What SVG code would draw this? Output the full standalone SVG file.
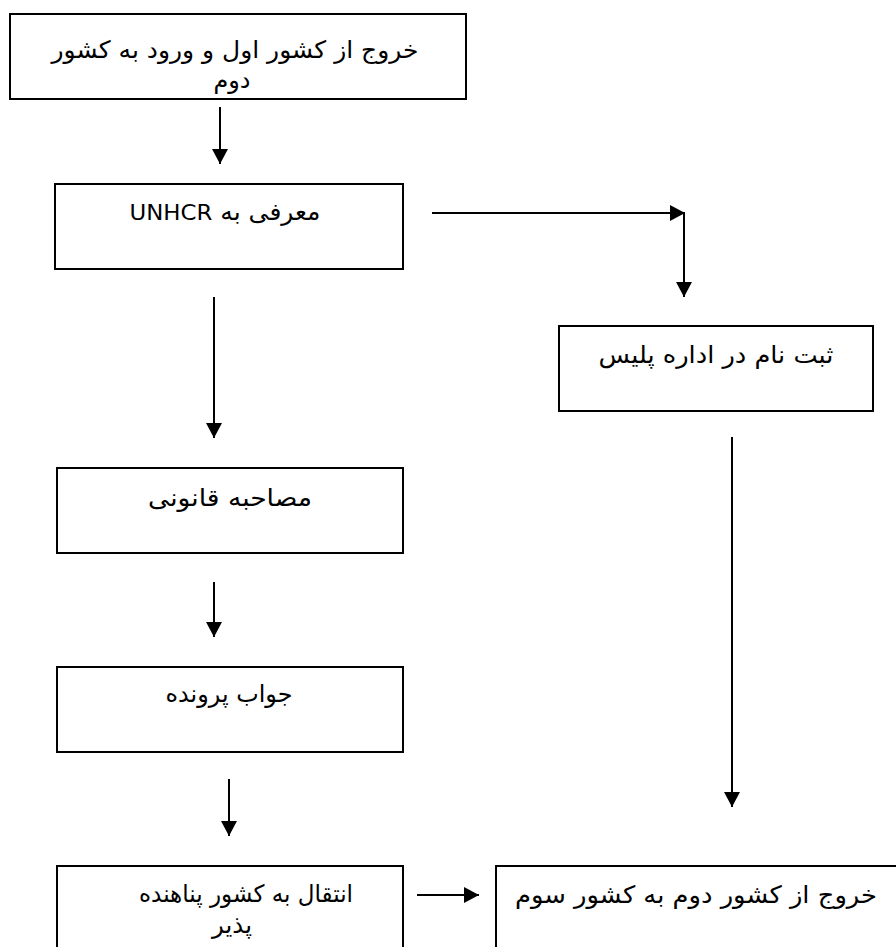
<svg xmlns="http://www.w3.org/2000/svg" width="896" height="947" viewBox="0 0 896 947">
<style>
.box{fill:#fff;stroke:#000;stroke-width:2}
.t{font-family:"DejaVu Sans","Noto Sans",sans-serif;font-size:24px;fill:#000;text-anchor:middle;direction:rtl;unicode-bidi:embed}
.lat{font-size:22px}
.c{fill:none;stroke:#000;stroke-width:2}
</style>
<defs>
<marker id="ah" markerUnits="userSpaceOnUse" markerWidth="16" markerHeight="16" refX="15" refY="8" orient="auto" viewBox="0 0 16 16">
<path d="M0,0 L15,8 L0,16 z" fill="#000"/>
</marker>
</defs>
<rect width="896" height="947" fill="#fff"/>
<g id="connectors">
<line class="c" x1="220" y1="107" x2="220" y2="164" marker-end="url(#ah)"/>
<line class="c" x1="432" y1="213" x2="685" y2="213" marker-end="url(#ah)"/>
<line class="c" x1="684" y1="213" x2="684" y2="297" marker-end="url(#ah)"/>
<line class="c" x1="214" y1="297" x2="214" y2="438" marker-end="url(#ah)"/>
<line class="c" x1="214" y1="582" x2="214" y2="637" marker-end="url(#ah)"/>
<line class="c" x1="229" y1="779" x2="229" y2="836" marker-end="url(#ah)"/>
<line class="c" x1="417" y1="895" x2="479" y2="895" marker-end="url(#ah)"/>
<line class="c" x1="732" y1="437" x2="732" y2="807" marker-end="url(#ah)"/>
</g>
<g id="n1">
<rect class="box" x="10" y="14" width="456" height="85"/>
<text class="t" x="235" y="58" textLength="367" lengthAdjust="spacingAndGlyphs">خروج از کشور اول و ورود به کشور</text>
<text class="t" x="232" y="88" textLength="37" lengthAdjust="spacingAndGlyphs">دوم</text>
</g>
<g id="n2">
<rect class="box" x="55" y="184" width="348" height="85"/>
<text class="t" x="225" y="220" textLength="191" lengthAdjust="spacingAndGlyphs">معرفی به <tspan class="lat">UNHCR</tspan></text>
</g>
<g id="n3">
<rect class="box" x="559" y="326" width="314" height="85"/>
<text class="t" x="716" y="363" textLength="235" lengthAdjust="spacingAndGlyphs">ثبت نام در اداره پلیس</text>
</g>
<g id="n4">
<rect class="box" x="57" y="468" width="346" height="85"/>
<text class="t" x="230" y="506" textLength="164" lengthAdjust="spacingAndGlyphs">مصاحبه قانونی</text>
</g>
<g id="n5">
<rect class="box" x="57" y="667" width="346" height="85"/>
<text class="t" x="229" y="702" textLength="127" lengthAdjust="spacingAndGlyphs">جواب پرونده</text>
</g>
<g id="n6">
<rect class="box" x="57" y="866" width="346" height="100"/>
<text class="t" x="246" y="902" textLength="214" lengthAdjust="spacingAndGlyphs">انتقال به کشور پناهنده</text>
<text class="t" x="232" y="933" textLength="40" lengthAdjust="spacingAndGlyphs">پذیر</text>
</g>
<g id="n7">
<rect class="box" x="496" y="866" width="420" height="100"/>
<text class="t" x="696" y="903" textLength="362" lengthAdjust="spacingAndGlyphs">خروج از کشور دوم به کشور سوم</text>
</g>
</svg>
